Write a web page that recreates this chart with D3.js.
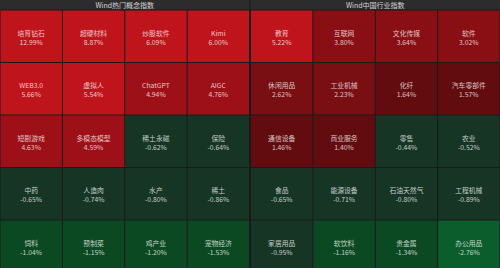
<!DOCTYPE html>
<html>
<head>
<meta charset="utf-8">
<script src="https://cdn.jsdelivr.net/npm/d3@7"></script>
<style>
  html, body { margin: 0; padding: 0; background: #1a1a1a; }
  svg { display: block; }
  text { font-family: "Noto Sans CJK SC", "Noto Sans", sans-serif; }
</style>
</head>
<body>
<div id="chart"></div>
<script>
const panelTitles = ["Wind热门概念指数", "Wind中国行业指数"];

const conceptNames = ["培育钻石", "超硬材料", "炒股软件", "Kimi",
  "WEB3.0", "虚拟人", "ChatGPT", "AIGC",
  "短剧游戏", "多模态模型", "稀土永磁", "保险",
  "中药", "人造肉", "水产", "稀土",
  "饲料", "预制菜", "鸡产业", "宠物经济"];
const conceptValues = [12.99, 8.87, 6.09, 6.00,
  5.66, 5.54, 4.94, 4.76,
  4.63, 4.59, -0.62, -0.64,
  -0.65, -0.74, -0.80, -0.86,
  -1.04, -1.15, -1.20, -1.53];

const industryNames = ["教育", "互联网", "文化传媒", "软件",
  "休闲用品", "工业机械", "化纤", "汽车零部件",
  "通信设备", "商业服务", "零售", "农业",
  "食品", "能源设备", "石油天然气", "工程机械",
  "家居用品", "软饮料", "贵金属", "办公用品"];
const industryValues = [5.22, 3.80, 3.64, 3.02,
  2.62, 2.23, 1.64, 1.57,
  1.46, 1.40, -0.44, -0.52,
  -0.65, -0.71, -0.80, -0.89,
  -0.95, -1.16, -1.34, -2.76];

const W = 500, H = 268, headerH = 10, cols = 4, rows = 5, rowH = 52.5;

const color = d3.scaleThreshold()
  .domain([-2, -1, 0, 2, 3, 4, 5])
  .range(["#0c5d2c", "#0b4922", "#163525", "#630c10", "#790e13", "#8a0f14", "#9e1017", "#c0141c"]);

const svg = d3.select("#chart").append("svg")
  .attr("width", W)
  .attr("height", H);

svg.append("rect").attr("width", W).attr("height", H).attr("fill", "#1a1a1a");

const panelX = d3.scaleBand().domain([0, 1]).range([0, W]).paddingInner(0.004);
const rowY = d3.scaleBand().domain(d3.range(rows)).range([headerH, headerH + rows * rowH]);

const panels = [
  { names: conceptNames, values: conceptValues },
  { names: industryNames, values: industryValues }
];

panels.forEach((p, pi) => {
  const x0 = panelX(pi), pw = panelX.bandwidth();
  const colX = d3.scaleBand().domain(d3.range(cols)).range([x0, x0 + pw]);

  const g = svg.append("g");

  g.append("rect")
    .attr("x", x0).attr("y", 0)
    .attr("width", pw).attr("height", headerH - 0.5)
    .attr("fill", "#2c2c2c");

  g.append("text")
    .attr("x", x0 + pw / 2).attr("y", headerH / 2)
    .attr("text-anchor", "middle")
    .attr("dominant-baseline", "central")
    .attr("font-size", 7)
    .attr("fill", "#d4d4d4")
    .text(panelTitles[pi]);

  const data = p.names.map((n, i) => ({ name: n, value: p.values[i], c: i % cols, r: Math.floor(i / cols) }));

  const cell = g.selectAll("g.cell")
    .data(data)
    .join("g")
    .attr("class", "cell")
    .attr("transform", d => `translate(${colX(d.c)},${rowY(d.r)})`);

  cell.append("rect")
    .attr("x", 0.5).attr("y", 0.5)
    .attr("width", colX.bandwidth() - 1)
    .attr("height", rowY.bandwidth() - 1)
    .attr("fill", d => color(d.value));

  cell.append("text")
    .attr("x", colX.bandwidth() / 2)
    .attr("y", 22.5)
    .attr("text-anchor", "middle")
    .attr("dominant-baseline", "central")
    .attr("font-size", 6.8)
    .attr("fill", "rgba(255,255,255,0.75)")
    .text(d => d.name);

  cell.append("text")
    .attr("x", colX.bandwidth() / 2)
    .attr("y", 31.5)
    .attr("text-anchor", "middle")
    .attr("dominant-baseline", "central")
    .attr("font-size", 6.8)
    .attr("fill", "rgba(255,255,255,0.75)")
    .text(d => d.value.toFixed(2) + "%");
});
</script>
</body>
</html>
